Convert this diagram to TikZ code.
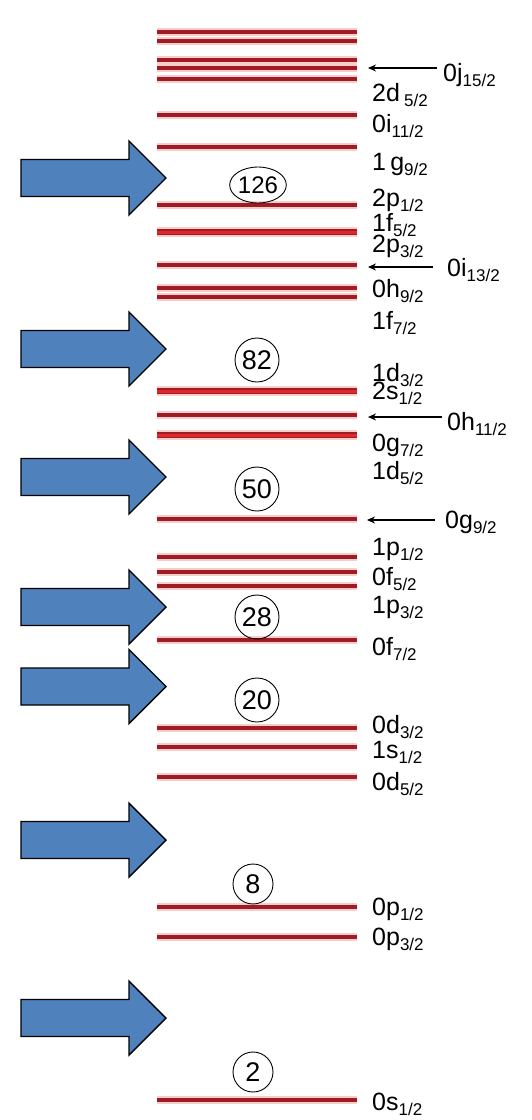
\documentclass[tikz,border=0pt]{standalone}
\usepackage{fontspec}
\setmainfont{Liberation Sans}
\usetikzlibrary{arrows.meta,shapes.geometric}
\definecolor{lvlred}{RGB}{160,28,36}
\definecolor{lvlbright}{RGB}{225,38,46}
\definecolor{lvlglow}{RGB}{250,205,205}
\definecolor{arrowblue}{RGB}{79,129,189}
\newcommand\orb[2]{#1\raisebox{-5pt}{\fontsize{17}{17}\selectfont #2}}
\tikzset{
  glow/.style={draw=lvlglow, line width=8pt},
  lvl/.style={draw=lvlred, line width=4pt},
  lvlthickout/.style={draw=lvlred, line width=6.5pt},
  lvlthickin/.style={draw=lvlbright, line width=3pt},
  lab/.style={anchor=base west, inner sep=0pt, font=\fontsize{25}{25}\selectfont},
  magic/.style={circle, draw=black, line width=0.9pt, inner sep=0pt, minimum size=44pt, font=\fontsize{27}{27}\selectfont},
  magicsmall/.style={magic, minimum size=40pt},
  magicwide/.style={ellipse, draw=black, line width=0.9pt, inner sep=0pt, minimum width=48pt, minimum height=36pt, font=\fontsize{24}{24}\selectfont},
  ptr/.style={draw=black, line width=1.3pt, -{Stealth[length=8pt,width=7pt]}},
  bigarrow/.style={fill=arrowblue, draw=black, line width=1.4pt, line join=miter}
}
\begin{document}
\begin{tikzpicture}[x=1pt,y=-1pt]
\fill[white] (0,0) rectangle (531,1120);
\useasboundingbox (0,0) rectangle (531,1120);
% big blue arrows
\foreach \c in {178,349,477,607,686.5,840,1018} {
  \draw[bigarrow] (21,\c-18.5) -- (129,\c-18.5) -- (129,\c-37) -- (166,\c) -- (129,\c+37) -- (129,\c+18.5) -- (21,\c+18.5) -- cycle;
}
% levels
\foreach \y in {32,41,60,68,79,115,147,205,265,288,297,415,519,557,572,586,640,728,747,777,907,937,1100} {
  \draw[glow] (157,\y) -- (357,\y);
}
\foreach \y in {232,391,435} {
  \draw[glow, line width=10pt] (157,\y) -- (357,\y);
}
\foreach \y in {32,41,60,68,79,115,147,205,265,288,297,415,519,557,572,586,640,728,747,777,907,937,1100} {
  \draw[lvl] (157,\y) -- (357,\y);
}
\foreach \y in {232,391,435} {
  \draw[lvlthickout] (157,\y) -- (357,\y);
  \draw[lvlthickin] (157,\y) -- (357,\y);
}
% magic numbers
\node[magicwide] (m126) at (258,185) {126};
\node[magic] (m82) at (257,360) {82};
\node[magic] (m50) at (257,489) {50};
\node[magic] (m28) at (257,617) {28};
\node[magic] (m20) at (257,700) {20};
\node[magicsmall] (m8) at (253,884) {8};
\node[magicsmall] (m2) at (253,1072) {2};
% labels
\node[lab] (l0j) at (443,81) {\orb{0j}{15/2}};
\node[lab] (l2d52) at (372,101) {\orb{2d\,}{5/2}};
\node[lab] (l0i11) at (372,132) {\orb{0i}{11/2}};
\node[lab] (l1g) at (372,170) {\orb{1\,g}{9/2}};
\node[lab] (l2p12) at (372,206) {\orb{2p}{1/2}};
\node[lab] (l1f52) at (372,231) {\orb{1f}{5/2}};
\node[lab] (l2p32) at (372,252) {\orb{2p}{3/2}};
\node[lab] (l0i13) at (447,276) {\orb{0i}{13/2}};
\node[lab] (l0h9) at (372,297) {\orb{0h}{9/2}};
\node[lab] (l1f72) at (372,329) {\orb{1f}{7/2}};
\node[lab] (l1d32) at (372,381) {\orb{1d}{3/2}};
\node[lab] (l2s) at (372,399) {\orb{2s}{1/2}};
\node[lab] (l0h11) at (447,430) {\orb{0h}{11/2}};
\node[lab] (l0g72) at (372,451) {\orb{0g}{7/2}};
\node[lab] (l1d52) at (372,479) {\orb{1d}{5/2}};
\node[lab] (l0g92) at (445,528) {\orb{0g}{9/2}};
\node[lab] (l1p12) at (372,555) {\orb{1p}{1/2}};
\node[lab] (l0f52) at (372,585) {\orb{0f}{5/2}};
\node[lab] (l1p32) at (372,613) {\orb{1p}{3/2}};
\node[lab] (l0f72) at (372,655) {\orb{0f}{7/2}};
\node[lab] (l0d32) at (372,733) {\orb{0d}{3/2}};
\node[lab] (l1s) at (372,758) {\orb{1s}{1/2}};
\node[lab] (l0d52) at (372,790) {\orb{0d}{5/2}};
\node[lab] (l0p12) at (372,915) {\orb{0p}{1/2}};
\node[lab] (l0p32) at (372,945) {\orb{0p}{3/2}};
\node[lab] (l0s) at (372,1110) {\orb{0s}{1/2}};
% pointer arrows
\coordinate (ja) at (437,68); \coordinate (jb) at (368,68);
\coordinate (ia) at (433,267); \coordinate (ib) at (368,267);
\coordinate (ha) at (442,417); \coordinate (hb) at (368,417);
\coordinate (ga) at (435,520); \coordinate (gb) at (367,520);
\draw[ptr] (ja) -- (jb);
\draw[ptr] (ia) -- (ib);
\draw[ptr] (ha) -- (hb);
\draw[ptr] (ga) -- (gb);
\end{tikzpicture}
\end{document}
